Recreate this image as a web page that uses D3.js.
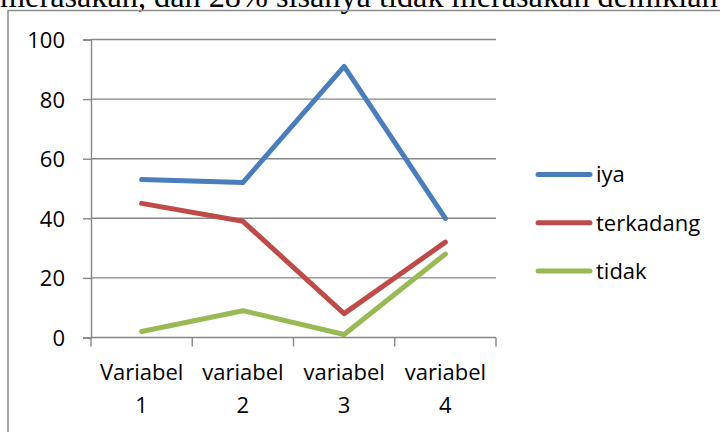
<!DOCTYPE html>
<html>
<head>
<meta charset="utf-8">
<script src="https://cdn.jsdelivr.net/npm/d3@7"></script>
<style>
  body { margin: 0; background: #fff; }
  svg { display: block; }
</style>
</head>
<body>
<svg id="chart" width="720" height="432"></svg>
<script>
// chart data
var categories = ["Variabel 1", "variabel 2", "variabel 3", "variabel 4"];
var seriesNames = ["iya", "terkadang", "tidak"];
var iya = [53, 52, 91, 40];
var terkadang = [45, 39, 8, 32];
var tidak = [2, 9, 1, 28];
var yTicks = [0, 20, 40, 60, 80, 100];
var colors = ["#4a7ebb", "#be4b48", "#98b954"];
var caption = "merasakan, dan 28% sisanya tidak merasakan demikian";

var series = [iya, terkadang, tidak];

var svg = d3.select("#chart");
var font = "'Open Sans', 'Noto Sans', sans-serif";

// caption text of the page, mostly cut off at top
var cap = svg.append("text")
    .attr("x", 0)
    .attr("y", 7)
    .attr("font-family", "'Liberation Serif', 'Times New Roman', serif")
    .attr("font-size", 33)
    .attr("fill", "#000")
    .text(caption);
var capLen = cap.node().getComputedTextLength();
cap.attr("font-size", 33 * 718 / capLen);

// chart frame
svg.append("rect")
    .attr("x", 8).attr("y", 10.5)
    .attr("width", 760).attr("height", 460)
    .attr("fill", "none")
    .attr("stroke", "#8c8c8c")
    .attr("stroke-width", 1.5);

// plot area (window.top is reserved, so use other names)
var plotLeft = 91, plotRight = 496, plotTop = 39.5, plotBottom = 337.5;

var x = d3.scaleBand().domain(categories).range([plotLeft, plotRight]);
var y = d3.scaleLinear().domain([0, 100]).range([plotBottom, plotTop]);

var axisColor = "#868686";

// horizontal gridlines
svg.append("g").selectAll("line")
    .data(yTicks.filter(function(d) { return d > 0; }))
    .enter().append("line")
    .attr("x1", plotLeft).attr("x2", plotRight)
    .attr("y1", function(d) { return y(d); })
    .attr("y2", function(d) { return y(d); })
    .attr("stroke", axisColor)
    .attr("stroke-width", 1.4);

// y axis
var yAxis = svg.append("g")
    .attr("transform", "translate(" + plotLeft + ",0)")
    .call(d3.axisLeft(y).tickValues(yTicks).tickSize(8).tickPadding(18));
yAxis.select(".domain").attr("stroke", axisColor).attr("stroke-width", 1.4);
yAxis.selectAll(".tick line").attr("stroke", axisColor).attr("stroke-width", 1.4);
yAxis.selectAll(".tick text")
    .attr("font-family", font)
    .attr("font-size", 22)
    .attr("fill", "#000")
    .attr("dy", "0.36em");

// x axis: ticks at band boundaries
var xAxis = svg.append("g")
    .attr("transform", "translate(0," + plotBottom + ")");
xAxis.append("line")
    .attr("x1", plotLeft).attr("x2", plotRight)
    .attr("stroke", axisColor).attr("stroke-width", 1.4);
var bounds = categories.map(function(c) { return x(c); }).concat([plotRight]);
xAxis.selectAll(".xtick")
    .data(bounds)
    .enter().append("line")
    .attr("class", "xtick")
    .attr("x1", function(d) { return d; })
    .attr("x2", function(d) { return d; })
    .attr("y1", 0).attr("y2", 9)
    .attr("stroke", axisColor).attr("stroke-width", 1.4);

var labels = svg.append("g").selectAll("text")
    .data(categories)
    .enter().append("text")
    .attr("x", function(d) { return x(d) + x.bandwidth() / 2; })
    .attr("y", 380)
    .attr("text-anchor", "middle")
    .attr("font-family", font)
    .attr("font-size", 22)
    .attr("fill", "#000");
labels.each(function(d) {
    var parts = d.split(" ");
    var t = d3.select(this);
    t.append("tspan").attr("x", x(d) + x.bandwidth() / 2).text(parts[0]);
    t.append("tspan").attr("x", x(d) + x.bandwidth() / 2).attr("dy", 33).text(parts[1]);
});

// series lines
var line = d3.line()
    .x(function(d, i) { return x(categories[i]) + x.bandwidth() / 2; })
    .y(function(d) { return y(d); });

svg.append("g").selectAll("path")
    .data(series)
    .enter().append("path")
    .attr("d", line)
    .attr("fill", "none")
    .attr("stroke", function(d, i) { return colors[i]; })
    .attr("stroke-width", 5)
    .attr("stroke-linejoin", "round")
    .attr("stroke-linecap", "round");

// legend
var legend = svg.append("g").selectAll("g")
    .data(seriesNames)
    .enter().append("g")
    .attr("transform", function(d, i) { return "translate(538," + (174.5 + i * 48.3) + ")"; });
legend.append("line")
    .attr("x1", 0).attr("x2", 52)
    .attr("stroke", function(d, i) { return colors[i]; })
    .attr("stroke-width", 5)
    .attr("stroke-linecap", "round");
legend.append("text")
    .attr("x", 58)
    .attr("dy", "0.36em")
    .attr("font-family", font)
    .attr("font-size", 22)
    .attr("fill", "#000")
    .text(function(d) { return d; });
</script>
</body>
</html>
